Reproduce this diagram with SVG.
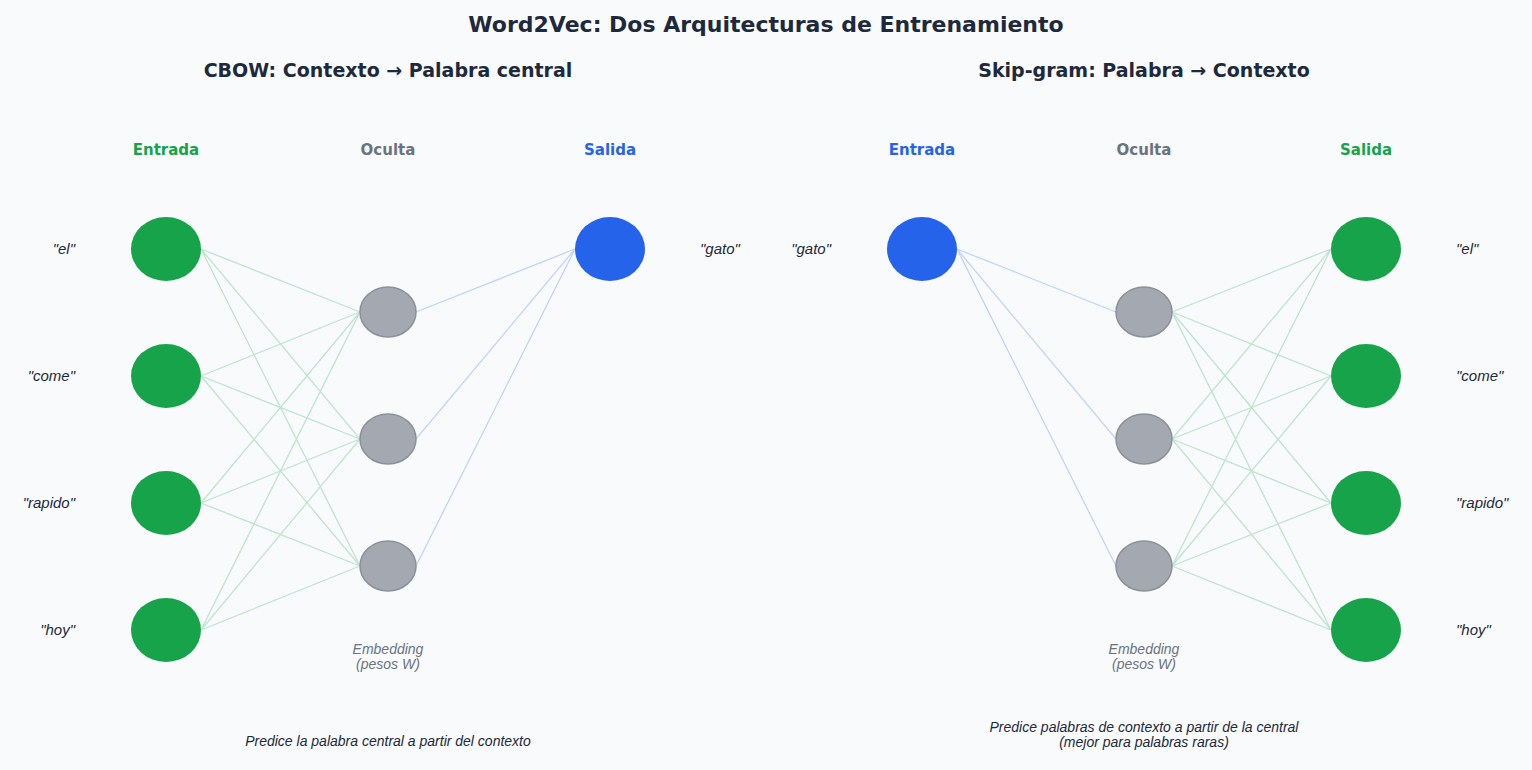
<svg xmlns="http://www.w3.org/2000/svg" width="1532" height="770" viewBox="0 0 1532 770">
<style>
text{font-family:"DejaVu Sans","Liberation Sans",sans-serif;fill:#1e293b}
.t{font-size:22px;font-weight:bold}
.s{font-size:19px;font-weight:bold}
.h{font-size:15px;font-weight:bold}
.w{font-size:15px;font-style:italic;font-family:"Liberation Sans",sans-serif}
.e{font-size:14px;font-style:italic;fill:#6b7280;font-family:"Liberation Sans",sans-serif}
.n{font-size:14px;font-style:italic;font-family:"Liberation Sans",sans-serif}
.g{fill:#16a34a}.b{fill:#2563eb}
.hid{fill:#a3a8b1;stroke:#8b919c;stroke-width:1.5}
.lg{stroke:#16a34a;stroke-opacity:0.25;stroke-width:1.3;fill:none}
.lb{stroke:#2563eb;stroke-opacity:0.25;stroke-width:1.3;fill:none}
</style>
<rect width="1532" height="770" fill="#f8fafc"/>
<text class="t" x="766" y="32" text-anchor="middle">Word2Vec: Dos Arquitecturas de Entrenamiento</text>
<text class="s" x="388" y="77" text-anchor="middle">CBOW: Contexto → Palabra central</text>
<text class="s" x="1144" y="77" text-anchor="middle">Skip-gram: Palabra → Contexto</text>
<text class="h" x="166" y="155" text-anchor="middle" style="fill:#16a34a">Entrada</text>
<text class="h" x="388" y="155" text-anchor="middle" style="fill:#6b7280">Oculta</text>
<text class="h" x="610" y="155" text-anchor="middle" style="fill:#2563eb">Salida</text>
<text class="h" x="922" y="155" text-anchor="middle" style="fill:#2563eb">Entrada</text>
<text class="h" x="1144" y="155" text-anchor="middle" style="fill:#6b7280">Oculta</text>
<text class="h" x="1366" y="155" text-anchor="middle" style="fill:#16a34a">Salida</text>
<g id="connectors">
<path class="lg" d="M201 249L360 312M201 249L360 439M201 249L360 566M201 376L360 312M201 376L360 439M201 376L360 566M201 503L360 312M201 503L360 439M201 503L360 566M201 630L360 312M201 630L360 439M201 630L360 566"/>
<path class="lb" d="M416 312L575 249M416 439L575 249M416 566L575 249"/>
<path class="lb" d="M957 249L1116 312M957 249L1116 439M957 249L1116 566"/>
<path class="lg" d="M1172 312L1331 249M1172 312L1331 376M1172 312L1331 503M1172 312L1331 630M1172 439L1331 249M1172 439L1331 376M1172 439L1331 503M1172 439L1331 630M1172 566L1331 249M1172 566L1331 376M1172 566L1331 503M1172 566L1331 630"/>
</g>
<g id="cbow-in-el"><ellipse class="g" cx="166" cy="249" rx="35" ry="32"/><text class="w" x="75" y="254" text-anchor="end">"el"</text></g>
<g id="cbow-in-come"><ellipse class="g" cx="166" cy="376" rx="35" ry="32"/><text class="w" x="75" y="381" text-anchor="end">"come"</text></g>
<g id="cbow-in-rapido"><ellipse class="g" cx="166" cy="503" rx="35" ry="32"/><text class="w" x="75" y="508" text-anchor="end">"rapido"</text></g>
<g id="cbow-in-hoy"><ellipse class="g" cx="166" cy="630" rx="35" ry="32"/><text class="w" x="75" y="635" text-anchor="end">"hoy"</text></g>
<g id="cbow-h1"><ellipse class="hid" cx="388" cy="312" rx="28" ry="25"/></g>
<g id="cbow-h2"><ellipse class="hid" cx="388" cy="439" rx="28" ry="25"/></g>
<g id="cbow-h3"><ellipse class="hid" cx="388" cy="566" rx="28" ry="25"/></g>
<g id="cbow-out"><ellipse class="b" cx="610" cy="249" rx="35" ry="32"/><text class="w" x="700" y="254">"gato"</text></g>
<text class="e" x="388" y="654" text-anchor="middle">Embedding</text>
<text class="e" x="388" y="669" text-anchor="middle">(pesos W)</text>
<text class="n" x="388" y="746" text-anchor="middle">Predice la palabra central a partir del contexto</text>
<g id="sg-in"><ellipse class="b" cx="922" cy="249" rx="35" ry="32"/><text class="w" x="831" y="254" text-anchor="end">"gato"</text></g>
<g id="sg-h1"><ellipse class="hid" cx="1144" cy="312" rx="28" ry="25"/></g>
<g id="sg-h2"><ellipse class="hid" cx="1144" cy="439" rx="28" ry="25"/></g>
<g id="sg-h3"><ellipse class="hid" cx="1144" cy="566" rx="28" ry="25"/></g>
<g id="sg-out-el"><ellipse class="g" cx="1366" cy="249" rx="35" ry="32"/><text class="w" x="1456" y="254">"el"</text></g>
<g id="sg-out-come"><ellipse class="g" cx="1366" cy="376" rx="35" ry="32"/><text class="w" x="1456" y="381">"come"</text></g>
<g id="sg-out-rapido"><ellipse class="g" cx="1366" cy="503" rx="35" ry="32"/><text class="w" x="1456" y="508">"rapido"</text></g>
<g id="sg-out-hoy"><ellipse class="g" cx="1366" cy="630" rx="35" ry="32"/><text class="w" x="1456" y="635">"hoy"</text></g>
<text class="e" x="1144" y="654" text-anchor="middle">Embedding</text>
<text class="e" x="1144" y="669" text-anchor="middle">(pesos W)</text>
<text class="n" x="1144" y="732" text-anchor="middle">Predice palabras de contexto a partir de la central</text>
<text class="n" x="1144" y="747" text-anchor="middle">(mejor para palabras raras)</text>
</svg>
